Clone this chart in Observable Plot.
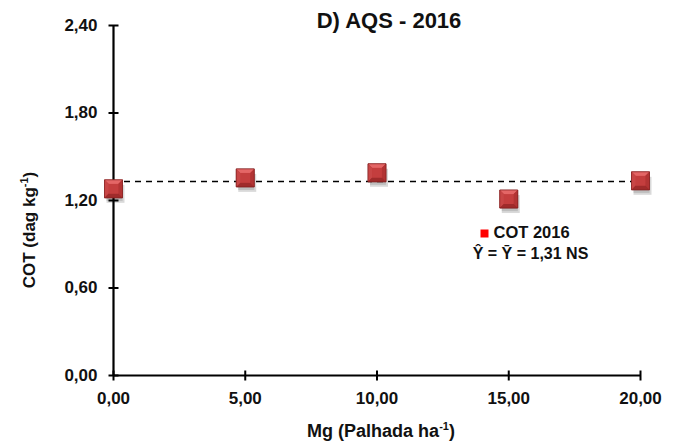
<!DOCTYPE html>
<html>
<head>
<meta charset="utf-8">
<script src="https://cdn.jsdelivr.net/npm/d3@7"></script>
<script src="https://cdn.jsdelivr.net/npm/@observablehq/plot@0.6"></script>
<style>
  html, body { margin: 0; padding: 0; background: #fff; }
  #chart svg { display: block; }
</style>
</head>
<body>
<div id="chart"></div>
<script>
// ---- data ----
const doses = [0, 5, 10, 15, 20];               // Mg (Palhada ha-1)
const cot = [1.28, 1.355, 1.39, 1.21, 1.335];   // COT 2016 (dag kg-1)
const meanLine = [1.33];                         // dashed line (Ŷ = Ȳ)
const xTicks = [0, 5, 10, 15, 20];
const yTicks = [0, 0.6, 1.2, 1.8, 2.4];
const title = "D) AQS - 2016";
const seriesName = "COT 2016";
const equation = "Ŷ = Ȳ = 1,31 NS";

const data = doses.map((d, i) => ({x: d, y: cot[i]}));
const fmt = d => d.toFixed(2).replace(".", ",");
const FONT = "'Liberation Sans', Arial, sans-serif";

// custom symbols
const sq = {draw(c, s) { const h = Math.sqrt(s) / 2; c.moveTo(-h, -h); c.lineTo(h, -h); c.lineTo(h, h); c.lineTo(-h, h); c.closePath(); }};
const triTop = {draw(c, s) { const h = Math.sqrt(s) / 2; c.moveTo(-h, -h); c.lineTo(h, -h); c.lineTo(0, 0); c.closePath(); }};
const triBot = {draw(c, s) { const h = Math.sqrt(s) / 2; c.moveTo(-h, h); c.lineTo(h, h); c.lineTo(0, 0); c.closePath(); }};
const triL = {draw(c, s) { const h = Math.sqrt(s) / 2; c.moveTo(-h, -h); c.lineTo(-h, h); c.lineTo(0, 0); c.closePath(); }};
const triR = {draw(c, s) { const h = Math.sqrt(s) / 2; c.moveTo(h, -h); c.lineTo(h, h); c.lineTo(0, 0); c.closePath(); }};
const hTick = {draw(c) { c.moveTo(-5, 0); c.lineTo(5, 0); }};
const vTick = {draw(c) { c.moveTo(0, -5); c.lineTo(0, 5); }};
const R = 18 / Math.sqrt(Math.PI); // square side 18px

const chart = Plot.plot({
  width: 682,
  height: 443,
  marginLeft: 113,
  marginRight: 42,
  marginTop: 25,
  marginBottom: 68,
  style: {fontFamily: FONT, background: "#fff", overflow: "visible"},
  x: {domain: [0, 20], ticks: xTicks, tickFormat: fmt},
  y: {domain: [0, 2.4], ticks: yTicks, tickFormat: fmt},
  marks: [
    Plot.axisY({ticks: yTicks, tickFormat: fmt, tickSize: 0, tickPadding: 16, fontSize: 17, fontWeight: "bold", fill: "#111", label: null}),
    Plot.axisX({ticks: xTicks, tickFormat: fmt, tickSize: 0, tickPadding: 16, fontSize: 17, fontWeight: "bold", fill: "#111", label: null}),
    Plot.ruleY(meanLine, {x1: 0, x2: 20, stroke: "#000", strokeWidth: 1.6, strokeDasharray: "6,5"}),
    Plot.ruleX([0], {stroke: "#000", strokeWidth: 2.2}),
    Plot.ruleY([0], {stroke: "#000", strokeWidth: 2.2}),
    Plot.dot(yTicks, {x: () => 0, y: d => d, symbol: hTick, stroke: "#000", strokeWidth: 2, fill: "none"}),
    Plot.dot(xTicks, {x: d => d, y: () => 0, symbol: vTick, stroke: "#000", strokeWidth: 2, fill: "none"}),
    // marker shadow
    Plot.dot(data, {x: "x", y: "y", symbol: sq, r: R, fill: "#000", fillOpacity: 0.15, dx: 2, dy: 5}),
    Plot.dot(data, {x: "x", y: "y", symbol: sq, r: R * 0.9, fill: "#000", fillOpacity: 0.12, dx: 1, dy: 4}),
    // beveled markers
    Plot.dot(data, {x: "x", y: "y", symbol: sq, r: R, fill: "#b53636", stroke: "#8a2020", strokeWidth: 0.6}),
    Plot.dot(data, {x: "x", y: "y", symbol: triTop, r: R, fill: "#e46666"}),
    Plot.dot(data, {x: "x", y: "y", symbol: triL, r: R, fill: "#c84646"}),
    Plot.dot(data, {x: "x", y: "y", symbol: triR, r: R, fill: "#b23434"}),
    Plot.dot(data, {x: "x", y: "y", symbol: triBot, r: R, fill: "#9f2b2b"}),
    Plot.dot(data, {x: "x", y: "y", symbol: sq, r: R * 0.55, fill: "#c43e3e"}),
    Plot.dot(data, {x: "x", y: "y", symbol: sq, r: R, fill: "none", stroke: "#7d1c1c", strokeWidth: 0.6}),
    // title
    Plot.text([title], {text: d => d, frameAnchor: "top", lineAnchor: "middle", dx: 12, dy: -5, fontSize: 22, fontWeight: "bold", fill: "#111"}),
    // legend
    Plot.dot([seriesName], {frameAnchor: "top-left", dx: 371, dy: 208, symbol: "square", r: 8 / Math.sqrt(Math.PI), fill: "#ff0000"}),
    Plot.text([seriesName], {text: d => d, frameAnchor: "top-left", textAnchor: "start", lineAnchor: "middle", dx: 380, dy: 207, fontSize: 16.5, fontWeight: "bold", fill: "#111"}),
    Plot.text([equation], {text: d => d, frameAnchor: "top-left", textAnchor: "middle", lineAnchor: "middle", dx: 417, dy: 228, fontSize: 16, fontWeight: "bold", fill: "#111"})
  ]
});

const svg = d3.select(chart);
// y axis label with superscript
const yl = svg.append("text")
  .attr("transform", "translate(35,230) rotate(-90)")
  .attr("text-anchor", "middle")
  .attr("font-family", FONT).attr("font-size", 17).attr("font-weight", "bold").attr("fill", "#111");
yl.append("tspan").text("COT (dag kg");
yl.append("tspan").attr("font-size", 11).attr("dy", "-7").text("-1");
yl.append("tspan").attr("dy", "7").text(")");

const xl = svg.append("text")
  .attr("x", 381).attr("y", 437)
  .attr("text-anchor", "middle")
  .attr("font-family", FONT).attr("font-size", 18).attr("font-weight", "bold").attr("fill", "#111");
xl.append("tspan").text("Mg (Palhada ha");
xl.append("tspan").attr("font-size", 11).attr("dy", "-7").text("-1");
xl.append("tspan").attr("dy", "7").text(")");

document.getElementById("chart").appendChild(chart);
</script>
</body>
</html>
